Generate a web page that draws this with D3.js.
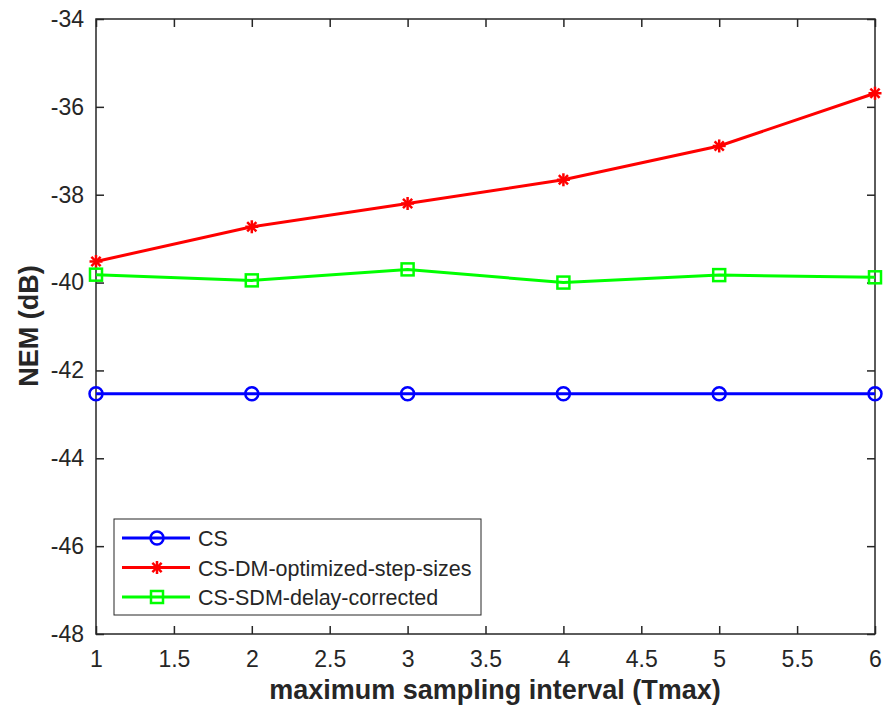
<!DOCTYPE html>
<html>
<head>
<meta charset="utf-8">
<script src="https://cdn.jsdelivr.net/npm/d3@7"></script>
<style>
  body { margin: 0; background: #fff; }
  text { font-family: "Liberation Sans", Arial, sans-serif; fill: #262626; }
</style>
</head>
<body>
<script>
// data
const xVals = [1, 2, 3, 4, 5, 6];
const csVals = [-42.53, -42.53, -42.53, -42.53, -42.53, -42.53];
const dmVals = [-39.52, -38.73, -38.20, -37.66, -36.89, -35.69];
const sdmVals = [-39.82, -39.95, -39.70, -40.00, -39.83, -39.88];
const seriesNames = ["CS", "CS-DM-optimized-step-sizes", "CS-SDM-delay-corrected"];
const xTicks = [1, 1.5, 2, 2.5, 3, 3.5, 4, 4.5, 5, 5.5, 6];
const yTicks = [-48, -46, -44, -42, -40, -38, -36, -34];

const margin = {top: 19, right: 8, bottom: 77, left: 96},
      width  = 883 - margin.left - margin.right,
      height = 711 - margin.top - margin.bottom;

const svg = d3.select("body").append("svg")
    .attr("width", 883)
    .attr("height", 711);

const chart = svg.append("g")
    .attr("transform", "translate(" + margin.left + "," + margin.top + ")");

const xScale = d3.scaleLinear().domain([1, 6]).range([0, width]);
const yScale = d3.scaleLinear().domain([-48, -34]).range([height, 0]);

// axes, ticks pointing inward
const axisStyle = function(g){
    g.select(".domain").remove();
    g.selectAll("line").attr("stroke", "#262626").attr("stroke-width", 1.5);
    g.selectAll("text").attr("font-size", "23px").style("fill", "#262626");
};

chart.append("g")
    .attr("transform", "translate(0," + height + ")")
    .call(d3.axisBottom(xScale).tickValues(xTicks).tickSizeInner(-8).tickSizeOuter(0).tickPadding(17).tickFormat(d3.format("")))
    .call(axisStyle);
chart.append("g")
    .call(d3.axisTop(xScale).tickValues(xTicks).tickSizeInner(-8).tickSizeOuter(0).tickFormat(""))
    .call(axisStyle);
chart.append("g")
    .call(d3.axisLeft(yScale).tickValues(yTicks).tickSizeInner(-8).tickSizeOuter(0).tickPadding(12))
    .call(axisStyle);
chart.append("g")
    .attr("transform", "translate(" + width + ",0)")
    .call(d3.axisRight(yScale).tickValues(yTicks).tickSizeInner(-8).tickSizeOuter(0).tickFormat(""))
    .call(axisStyle);

chart.selectAll(".tick text").text(function(){ return this.textContent.replace("\u2212", "-"); });

chart.append("rect")
    .attr("width", width).attr("height", height)
    .attr("fill", "none").attr("stroke", "#262626").attr("stroke-width", 1.5);

const series = [
    {name: seriesNames[0], values: csVals, color: "#0000ff", marker: "circle"},
    {name: seriesNames[1], values: dmVals, color: "#ff0000", marker: "star"},
    {name: seriesNames[2], values: sdmVals, color: "#00ff00", marker: "square"}
];

const line = d3.line()
    .x(function(d){ return xScale(d[0]); })
    .y(function(d){ return yScale(d[1]); });

function drawMarker(g, type, color){
    if(type === "circle"){
        g.append("circle").attr("r", 6.5).attr("fill", "none").attr("stroke", color).attr("stroke-width", 2.5);
    } else if(type === "square"){
        g.append("rect").attr("x", -6).attr("y", -6).attr("width", 12).attr("height", 12)
            .attr("fill", "none").attr("stroke", color).attr("stroke-width", 2.5);
    } else {
        for(let a = 0; a < 4; a++){
            const ang = a * Math.PI / 4;
            g.append("line")
                .attr("x1", -6.5 * Math.cos(ang)).attr("y1", -6.5 * Math.sin(ang))
                .attr("x2", 6.5 * Math.cos(ang)).attr("y2", 6.5 * Math.sin(ang))
                .attr("stroke", color).attr("stroke-width", 2.5);
        }
    }
}

series.forEach(function(s){
    const pts = xVals.map(function(x, i){ return [x, s.values[i]]; });
    chart.append("path")
        .datum(pts)
        .attr("d", line)
        .attr("fill", "none")
        .attr("stroke", s.color)
        .attr("stroke-width", 3);
    pts.forEach(function(p){
        const g = chart.append("g")
            .attr("transform", "translate(" + xScale(p[0]) + "," + yScale(p[1]) + ")");
        drawMarker(g, s.marker, s.color);
    });
});

// legend
const legend = svg.append("g").attr("transform", "translate(114,519)");
legend.append("rect")
    .attr("width", 367).attr("height", 96)
    .attr("fill", "#fff").attr("stroke", "#262626").attr("stroke-width", 1);
series.forEach(function(s, i){
    const y = 19 + i * 29.5;
    legend.append("line")
        .attr("x1", 8).attr("x2", 76).attr("y1", y).attr("y2", y)
        .attr("stroke", s.color).attr("stroke-width", 3);
    drawMarker(legend.append("g").attr("transform", "translate(43," + y + ")"), s.marker, s.color);
    legend.append("text")
        .attr("x", 84).attr("y", y + 8)
        .attr("font-size", "21.5px")
        .text(s.name);
});

// axis labels
svg.append("text")
    .attr("x", 495)
    .attr("y", 699)
    .attr("text-anchor", "middle")
    .attr("font-size", "27px")
    .attr("font-weight", "bold")
    .text("maximum sampling interval (Tmax)");

svg.append("text")
    .attr("transform", "translate(38,326) rotate(-90)")
    .attr("text-anchor", "middle")
    .attr("font-size", "27px")
    .attr("font-weight", "bold")
    .text("NEM (dB)");
</script>
</body>
</html>
